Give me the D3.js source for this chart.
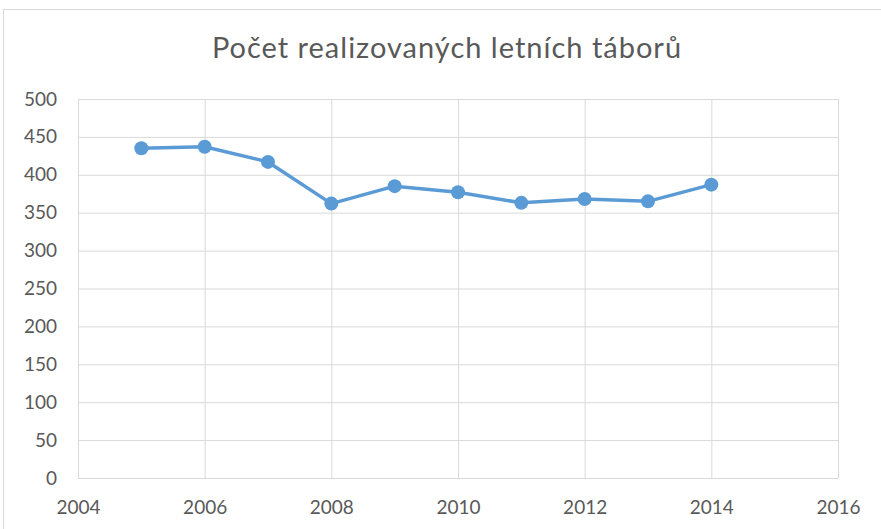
<!DOCTYPE html>
<html>
<head>
<meta charset="utf-8">
<script src="https://cdn.jsdelivr.net/npm/d3@7"></script>
<style>
  body { margin: 0; background: #fff; }
  svg text { font-family: Lato, "Open Sans", sans-serif; fill: #595959; }
</style>
</head>
<body>
<div id="chart"></div>
<script>
var years = [2005, 2006, 2007, 2008, 2009, 2010, 2011, 2012, 2013, 2014];
var camps = [435, 437, 417, 362, 385, 377, 363, 368, 365, 387];
var xTicks = [2004, 2006, 2008, 2010, 2012, 2014, 2016];
var yTicks = [0, 50, 100, 150, 200, 250, 300, 350, 400, 450, 500];
var title = "Počet realizovaných letních táborů";

var width = 881, height = 529;
var margin = { top: 99, right: 43, bottom: 51, left: 78 };
var innerW = width - margin.left - margin.right,
    innerH = height - margin.top - margin.bottom;

var root = d3.select("#chart").append("svg")
  .attr("width", width)
  .attr("height", height);

// chart frame (runs off the right and bottom edge)
root.append("rect")
  .attr("x", 3.5).attr("y", 9.5)
  .attr("width", 900).attr("height", 600)
  .attr("fill", "none").attr("stroke", "#d9d9d9");

root.append("text")
  .attr("x", 447).attr("y", 58)
  .attr("text-anchor", "middle")
  .style("font-size", "29px")
  .style("letter-spacing", "1px")
  .text(title);

var svg = root.append("g")
  .attr("transform", "translate(" + margin.left + "," + margin.top + ")");

var x = d3.scaleLinear().domain([2004, 2016]).range([0, innerW]);
var y = d3.scaleLinear().domain([0, 500]).range([innerH, 0]);

// grid
svg.append("g")
  .attr("class", "grid y")
  .call(d3.axisLeft(y).tickValues(yTicks).tickSize(-innerW).tickFormat(""))
  .call(function (g) { g.select(".domain").remove(); })
  .selectAll("line").attr("stroke", "#d9d9d9");

svg.append("g")
  .attr("class", "grid x")
  .attr("transform", "translate(0," + innerH + ")")
  .call(d3.axisBottom(x).tickValues(xTicks).tickSize(-innerH).tickFormat(""))
  .call(function (g) { g.select(".domain").remove(); })
  .selectAll("line").attr("stroke", "#d9d9d9");

// tick labels
var yAxis = svg.append("g")
  .call(d3.axisLeft(y).tickValues(yTicks).tickSize(0).tickPadding(21));
yAxis.select(".domain").remove();
yAxis.selectAll("text").style("font-size", "19px");

var xAxis = svg.append("g")
  .attr("transform", "translate(0," + innerH + ")")
  .call(d3.axisBottom(x).tickValues(xTicks).tickSize(0).tickPadding(23).tickFormat(d3.format("d")));
xAxis.select(".domain").attr("stroke", "#d9d9d9");
xAxis.selectAll("text").style("font-size", "19px");

// series
var pts = years.map(function (d, i) { return [d, camps[i]]; });
var line = d3.line()
  .x(function (d) { return x(d[0]); })
  .y(function (d) { return y(d[1]); });

svg.append("path")
  .datum(pts)
  .attr("fill", "none")
  .attr("stroke", "#5b9bd5")
  .attr("stroke-width", 3.5)
  .attr("stroke-linejoin", "round")
  .attr("d", line);

svg.selectAll("circle.pt").data(pts).enter()
  .append("circle")
  .attr("class", "pt")
  .attr("cx", function (d) { return x(d[0]); })
  .attr("cy", function (d) { return y(d[1]); })
  .attr("r", 7)
  .attr("fill", "#5b9bd5");
</script>
</body>
</html>
